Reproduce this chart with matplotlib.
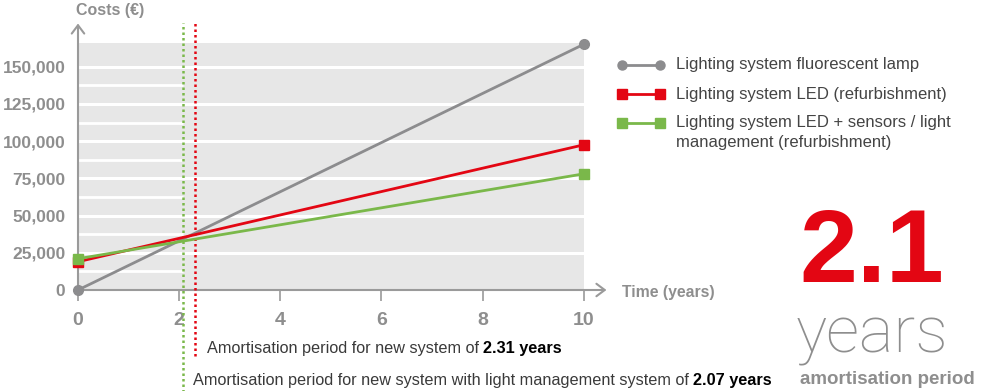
import matplotlib
matplotlib.use('Agg')
import matplotlib.pyplot as plt
from matplotlib.lines import Line2D
from matplotlib.patches import Rectangle
import numpy as np

plt.rcParams['font.family'] = ['Liberation Sans', 'DejaVu Sans']

# data
years = [0, 10]
fluorescent = [0, 165000]
led = [19000, 97500]
led_sensors = [21000, 78000]
series_labels = ['Lighting system fluorescent lamp',
                 'Lighting system LED (refurbishment)',
                 'Lighting system LED + sensors / light\nmanagement (refurbishment)']
yticks = [0, 25000, 50000, 75000, 100000, 125000, 150000]
xticks = [0, 2, 4, 6, 8, 10]
payback_led = 2.31
payback_sensors = 2.07

GREY = '#8c8c8e'
RED = '#e30613'
GREEN = '#7ab84a'
TXT = '#8e8e8e'
AXC = '#9a9a9a'

W, H = 992, 391
fig = plt.figure(figsize=(W / 100, H / 100), dpi=100)


def px(x, y):
    return x / W, 1 - y / H


ax = fig.add_axes([78 / W, (H - 290) / H, 531 / W, 268 / H])
ax.set_xlim(0, 10.5)
ax.set_ylim(0, 180000)
for s in ax.spines.values():
    s.set_visible(False)

# grey band with white grid lines
ax.add_patch(Rectangle((0, 0), 10, 166000, color='#e7e7e7', zorder=0, lw=0))
ax.hlines(yticks[1:], 0, 10, colors='white', lw=2.2, zorder=1)
ax.hlines(np.arange(12500, 150000, 25000), 0, payback_sensors, colors='white', lw=2.0, zorder=1)

# axes with arrows
arr = dict(arrowstyle='->,head_length=0.6,head_width=0.45', color=AXC, lw=1.5,
           shrinkA=0, shrinkB=0)
ax.annotate('', xy=(0, 179000), xytext=(0, 0), arrowprops=arr, annotation_clip=False)
ax.annotate('', xy=(10.45, 0), xytext=(0, 0), arrowprops=arr, annotation_clip=False)

ax.set_xticks(xticks)
ax.tick_params(axis='x', length=8, width=1.2, color=AXC, pad=8, labelsize=14, labelcolor=TXT)
ax.set_yticks(yticks, [f'{v:,}' for v in yticks])
ax.tick_params(axis='y', length=0, pad=9, labelsize=12.5, labelcolor=TXT)
for lbl in ax.get_xticklabels() + ax.get_yticklabels():
    lbl.set_fontweight('bold')

# series
ax.plot(years, fluorescent, color=GREY, lw=2, marker='o', ms=7, clip_on=False, zorder=5)
ax.plot(years, led, color=RED, lw=2, marker='s', ms=6.5, clip_on=False, zorder=5)
ax.plot(years, led_sensors, color=GREEN, lw=2, marker='s', ms=6.5, clip_on=False, zorder=6)

# amortisation markers
dots = (0, (1, 1.2))
ax.vlines(payback_led, -44000, 179000, colors=RED, linestyles=dots, lw=1.8, clip_on=False, zorder=4)
ax.vlines(payback_sensors, -70000, 179000, colors=GREEN, linestyles=dots, lw=1.8, clip_on=False, zorder=4)

fig.text(*px(76, 10), 'Costs (€)', fontsize=11.5, fontweight='bold', color=TXT, va='center')
fig.text(*px(622, 292), 'Time (years)', fontsize=11.3, fontweight='bold', color=TXT, va='center')

renderer = fig.canvas.get_renderer()


def two_part(x, y, normal, bold):
    t = fig.text(*px(x, y), normal, fontsize=11.7, color='#3a3a3a', va='baseline')
    bb = t.get_window_extent(renderer)
    fig.text((bb.x1 + 4) / W, 1 - y / H, bold, fontsize=11.7, fontweight='bold',
             color='black', va='baseline')


two_part(207, 353, 'Amortisation period for new system of', f'{payback_led} years')
two_part(193, 385, 'Amortisation period for new system with light management system of',
         f'{payback_sensors} years')

# legend
rows = [65, 94, 123]
styles = [(GREY, 'o', 6.5), (RED, 's', 6.5), (GREEN, 's', 6.5)]
for yy, (c, m, ms), lab in zip(rows, styles, series_labels):
    fig.add_artist(Line2D([622 / W, 660 / W], [1 - yy / H] * 2, transform=fig.transFigure,
                          color=c, lw=2, marker=m, ms=ms))
    for i, part in enumerate(lab.split('\n')):
        fig.text(*px(676, yy + i * 20), part, fontsize=12, color='#444444', va='center')

# big callout
fig.text(*px(799, 282), '2.1', fontsize=75, fontweight='bold', color=RED, va='baseline')
fig.text(*px(796, 352), 'years', fontsize=47, color=TXT, va='baseline',
         family=['Roboto', 'Liberation Sans'], fontweight='light')
fig.text(*px(800, 384), 'amortisation period', fontsize=13.5, fontweight='bold', color=TXT,
         va='baseline')

fig.savefig('out.png', dpi=100)
